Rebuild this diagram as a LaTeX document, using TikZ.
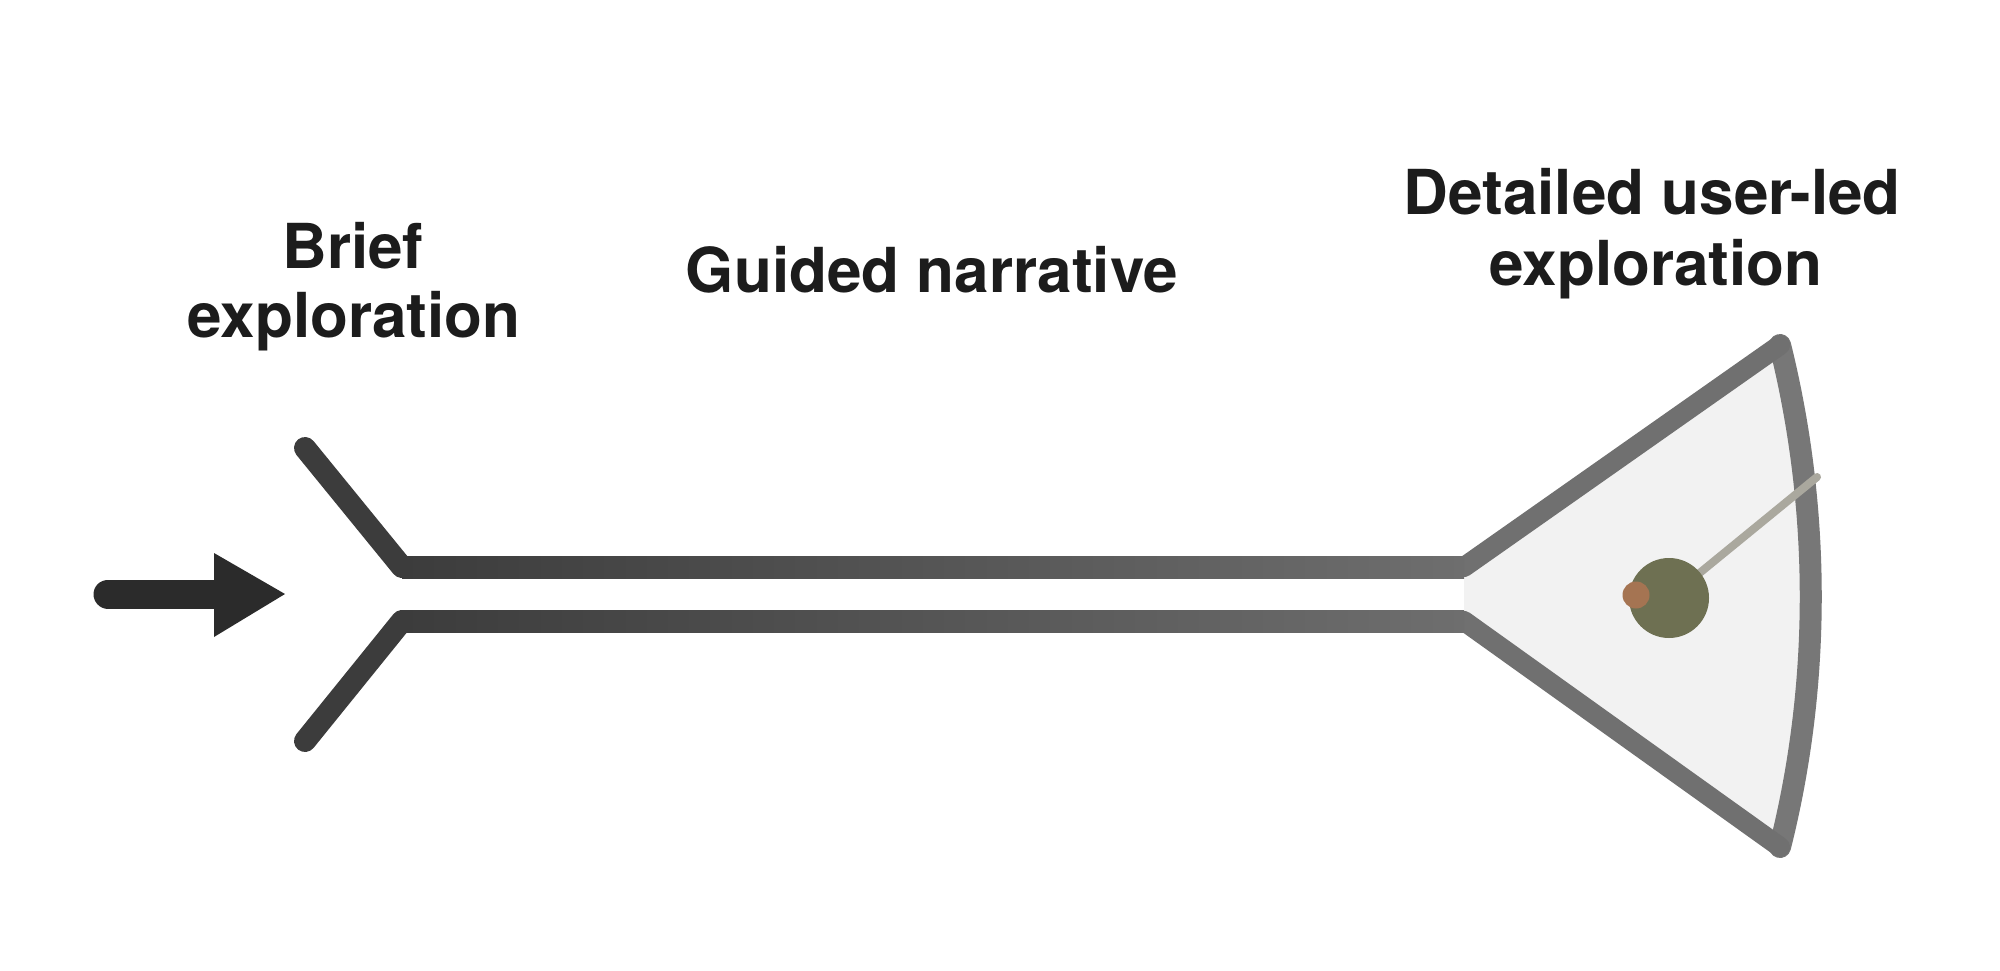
\documentclass[tikz,border=0pt]{standalone}
\usepackage{fontspec}
\setmainfont{TeX Gyre Heros}
\definecolor{txt}{HTML}{1C1C1C}
\definecolor{arrowc}{HTML}{2B2B2B}
\definecolor{darkline}{HTML}{3C3C3C}
\definecolor{midline}{HTML}{6E6E6E}
\definecolor{funnel}{HTML}{707070}
\definecolor{rim}{HTML}{777777}
\definecolor{funnelfill}{HTML}{F2F2F2}
\definecolor{pointer}{HTML}{AAA89E}
\definecolor{olive}{HTML}{6E7052}
\definecolor{rust}{HTML}{A57452}
\tikzset{
  label/.style={font=\fontsize{62}{70}\selectfont\bfseries, text=txt, inner sep=0pt, anchor=base},
  branch/.style={draw=darkline, line width=22pt, line cap=round},
  funnelline/.style={draw=funnel, line width=20pt, line cap=round},
  rimline/.style={draw=rim, line width=22pt, line cap=round},
}
\begin{document}
\begin{tikzpicture}[x=1pt,y=-1pt]
\useasboundingbox (0,0) rectangle (2000,971);
\fill[white] (0,0) rectangle (2000,971);
% key points
\coordinate (ashaft) at (108,594);
\coordinate (ashaftend) at (216,594);
\coordinate (ahtop) at (214,553);
\coordinate (ahbot) at (214,637);
\coordinate (ahtip) at (285,594);
\coordinate (bt) at (305,448);
\coordinate (ct) at (402,567);
\coordinate (bb) at (305,741);
\coordinate (cb) at (402,621);
\coordinate (ft) at (1464,567);
\coordinate (fb) at (1464,621);
\coordinate (tipt) at (1780,345);
\coordinate (tipb) at (1780,847);
\coordinate (c1) at (1821,510);
\coordinate (c2) at (1821,684);
\coordinate (dot) at (1669,598);
\coordinate (pend) at (1817,477);
\coordinate (spot) at (1636,595);
% arrow
\draw[arrowc, line width=29pt, line cap=round] (ashaft) -- (ashaftend);
\fill[arrowc] (ahtop) -- (ahtip) -- (ahbot) -- cycle;
% funnel
\fill[funnelfill] (ft) -- (tipt) .. controls (c1) and (c2) .. (tipb) -- (fb) -- cycle;
\draw[rimline] (tipt) .. controls (c1) and (c2) .. (tipb);
\draw[funnelline] (ft) -- (tipt);
\draw[funnelline] (fb) -- (tipb);
% channel lines with gradient
\shade[left color=darkline, right color=midline] (402,556) rectangle (1464,578);
\shade[left color=darkline, right color=midline] (402,610) rectangle (1464,632);
% branches
\draw[branch] (bt) -- (ct);
\draw[branch] (bb) -- (cb);
% pointer and dots
\draw[pointer, line width=8pt, line cap=round] (dot) -- (pend);
\fill[olive] (dot) circle (40);
\fill[rust] (spot) circle (13.5);
% labels
\node[label] (brief1) at (353,268) {Brief};
\node[label] (brief2) at (354,337) {exploration};
\node[label] (guided) at (932,292) {Guided narrative};
\node[label] (det1) at (1652,214) {Detailed user-led};
\node[label] (det2) at (1656,285) {exploration};
\end{tikzpicture}
\end{document}
